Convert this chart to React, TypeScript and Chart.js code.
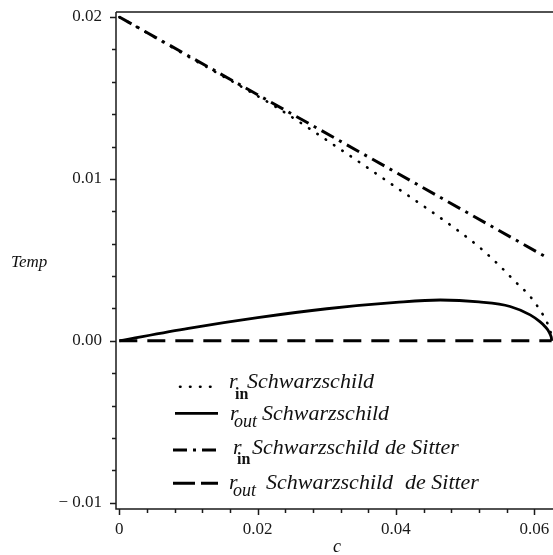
import React, { useEffect, useRef } from 'react';
import { Chart, registerables } from 'chart.js';

Chart.register(...registerables);

// ---- data ----
const rinSchC = [0, 0.0102, 0.0228, 0.0324, 0.0391, 0.0488, 0.0522, 0.0553, 0.0572, 0.0594, 0.0611, 0.0618, 0.0622, 0.0624, 0.06248, 0.0625];
const rinSchT = [0.0200, 0.0175, 0.0144, 0.0117, 0.00975, 0.00686, 0.00573, 0.0045, 0.00367, 0.00274, 0.00171, 0.00117, 0.00075, 0.00044, 0.0002, 0];

const routSchC = [0, 0.01, 0.02, 0.03, 0.04, 0.0464, 0.052, 0.0565, 0.0594, 0.0608, 0.0615, 0.062, 0.0623, 0.0624, 0.06248, 0.0625];
const routSchT = [0, 0.00077, 0.00143, 0.00198, 0.00237, 0.00252, 0.0024, 0.00212, 0.0016, 0.00118, 0.0009, 0.00064, 0.0004, 0.00029, 0.00013, 0];

const rinSdsC = [0, 0.02, 0.04, 0.062];
const rinSdsT = [0.0200, 0.0152, 0.0104, 0.0051];

const routSdsC = [0, 0.0625];
const routSdsT = [0, 0];

const xMajorTicks = [0, 0.02, 0.04, 0.06];
const xMajorLabels = ['0', '0.02', '0.04', '0.06'];
const yMajorTicks = [-0.01, 0, 0.01, 0.02];
const yMajorLabels = ['\u2212 0.01', '0.00', '0.01', '0.02'];

const xTitle = 'c';
const yTitle = 'Temp';

const FONT = '"Liberation Serif", "Times New Roman", serif';

const pts = (cs: number[], ts: number[]) => cs.map((c, i) => ({ x: c, y: ts[i] }));

const overlay = {
  id: 'overlay',
  afterDraw(chart: any) {
    const ctx: CanvasRenderingContext2D = chart.ctx;
    const xs = chart.scales.x;
    const ys = chart.scales.y;
    const { left, right, top, bottom } = chart.chartArea;
    ctx.save();
    ctx.strokeStyle = '#1a1a1a';
    ctx.lineWidth = 1.5;
    ctx.setLineDash([]);
    ctx.beginPath();
    ctx.moveTo(left, top);
    ctx.lineTo(right, top);
    ctx.moveTo(left, top);
    ctx.lineTo(left, bottom);
    ctx.lineTo(right, bottom);
    // y ticks
    for (let i = 0; i <= 15; i++) {
      const v = -0.01 + i * 0.002;
      const py = Math.round(ys.getPixelForValue(v)) + 0.5;
      const major = i % 5 === 0;
      ctx.moveTo(left, py);
      ctx.lineTo(left - (major ? 6 : 4), py);
    }
    // x ticks
    for (let i = 0; i <= 15; i++) {
      const v = i * 0.004;
      if (v > xs.max) break;
      const px = Math.round(xs.getPixelForValue(v)) + 0.5;
      const major = i % 5 === 0;
      ctx.moveTo(px, bottom);
      ctx.lineTo(px, bottom + (major ? 6 : 4));
    }
    ctx.stroke();

    // axis titles
    ctx.fillStyle = '#111';
    ctx.font = `italic 17px ${FONT}`;
    ctx.textBaseline = 'alphabetic';
    ctx.textAlign = 'left';
    ctx.fillText(yTitle, 11, 266.5);
    ctx.textAlign = 'center';
    ctx.font = `italic 18px ${FONT}`;
    ctx.fillText(xTitle, 337, 552);

    // legend
    ctx.strokeStyle = '#000';
    const sample = (y: number, dash: number[], cap: CanvasLineCap, w: number, x0 = 173, x1 = 218) => {
      ctx.beginPath();
      ctx.lineWidth = w;
      ctx.lineCap = cap;
      ctx.setLineDash(dash);
      ctx.moveTo(x0, y);
      ctx.lineTo(x1, y);
      ctx.stroke();
    };
    sample(386.7, [0.5, 9.5], 'round', 2.6, 180, 214);
    sample(413.3, [], 'butt', 2.8, 175, 218);
    sample(450, [14, 6, 3, 6], 'butt', 3, 173, 218);
    sample(483.3, [22, 6], 'butt', 3, 173, 218);
    ctx.setLineDash([]);

    const txt = (s: string, x: number, y: number, font: string) => {
      ctx.font = font;
      ctx.textAlign = 'left';
      ctx.textBaseline = 'alphabetic';
      ctx.fillText(s, x, y);
    };
    const main = `italic 22px ${FONT}`;
    const subB = `bold 16px ${FONT}`;
    const subI = `italic 18px ${FONT}`;
    // row 1
    txt('r', 229, 388, main);
    txt('in', 235, 398.5, subB);
    txt('Schwarzschild', 247, 388, main);
    // row 2
    txt('r', 230, 420, main);
    txt('out', 234, 427, subI);
    txt('Schwarzschild', 262, 420, main);
    // row 3
    txt('r', 233, 454, main);
    txt('in', 237, 463.5, subB);
    txt('Schwarzschild', 252, 454, main);
    txt('de Sitter', 385, 454, main);
    // row 4
    txt('r', 229, 489, main);
    txt('out', 233, 495.5, subI);
    txt('Schwarzschild', 266, 489, main);
    txt('de Sitter', 405, 489, main);
    ctx.restore();
  },
};

export default function App() {
  const ref = useRef<HTMLCanvasElement | null>(null);
  useEffect(() => {
    document.body.style.margin = '0';
    document.documentElement.style.overflow = 'hidden';
    const canvas = ref.current!;
    const chart = new Chart(canvas, {
      type: 'line',
      data: {
        datasets: [
          {
            label: 'r_out Schwarzschild de Sitter',
            data: pts(routSdsC, routSdsT),
            borderColor: '#000',
            borderWidth: 3,
            borderDash: [18, 10],
            pointRadius: 0,
            tension: 0,
          },
          {
            label: 'r_in Schwarzschild de Sitter',
            data: pts(rinSdsC, rinSdsT),
            borderColor: '#000',
            borderWidth: 3,
            borderDash: [14, 6, 3, 6],
            pointRadius: 0,
            tension: 0,
          },
          {
            label: 'r_in Schwarzschild',
            data: pts(rinSchC, rinSchT),
            borderColor: '#000',
            borderWidth: 2.6,
            borderDash: [0.5, 9.5],
            borderCapStyle: 'round',
            pointRadius: 0,
            cubicInterpolationMode: 'monotone',
          },
          {
            label: 'r_out Schwarzschild',
            data: pts(routSchC, routSchT),
            borderColor: '#000',
            borderWidth: 2.8,
            pointRadius: 0,
            cubicInterpolationMode: 'monotone',
          },
        ],
      },
      options: {
        animation: false,
        responsive: false,
        devicePixelRatio: 1,
        parsing: false as any,
        layout: { padding: { top: 12, left: 0, right: 0, bottom: 0 } },
        plugins: { legend: { display: false }, tooltip: { enabled: false }, title: { display: false } },
        scales: {
          x: {
            type: 'linear',
            position: 'bottom',
            min: -0.00048,
            max: 0.0627,
            grid: { display: false, drawTicks: false },
            border: { display: false },
            afterBuildTicks: (s: any) => {
              s.ticks = xMajorTicks.map((v) => ({ value: v }));
            },
            afterFit: (s: any) => {
              s.height = 46;
              s.paddingLeft = 0;
              s.paddingRight = 0;
            },
            ticks: {
              padding: 10,
              color: '#1a1a1a',
              font: { family: FONT, size: 17 },
              maxRotation: 0,
              autoSkip: false,
              callback: (_v: any, i: number) => xMajorLabels[i],
            },
          },
          y: {
            type: 'linear',
            min: -0.01039,
            max: 0.02031,
            grid: { display: false, drawTicks: false },
            border: { display: false },
            afterBuildTicks: (s: any) => {
              s.ticks = yMajorTicks.map((v) => ({ value: v }));
            },
            afterFit: (s: any) => {
              s.width = 116;
              s.paddingTop = 0;
              s.paddingBottom = 0;
            },
            ticks: {
              padding: 14,
              color: '#1a1a1a',
              font: { family: FONT, size: 17 },
              autoSkip: false,
              callback: (_v: any, i: number) => yMajorLabels[i],
            },
          },
        },
      },
      plugins: [overlay],
    });
    return () => chart.destroy();
  }, []);
  return (
    <div style={{ width: 553, height: 555, position: 'relative' }}>
      <canvas ref={ref} width={553} height={555} style={{ display: 'block' }} />
    </div>
  );
}
